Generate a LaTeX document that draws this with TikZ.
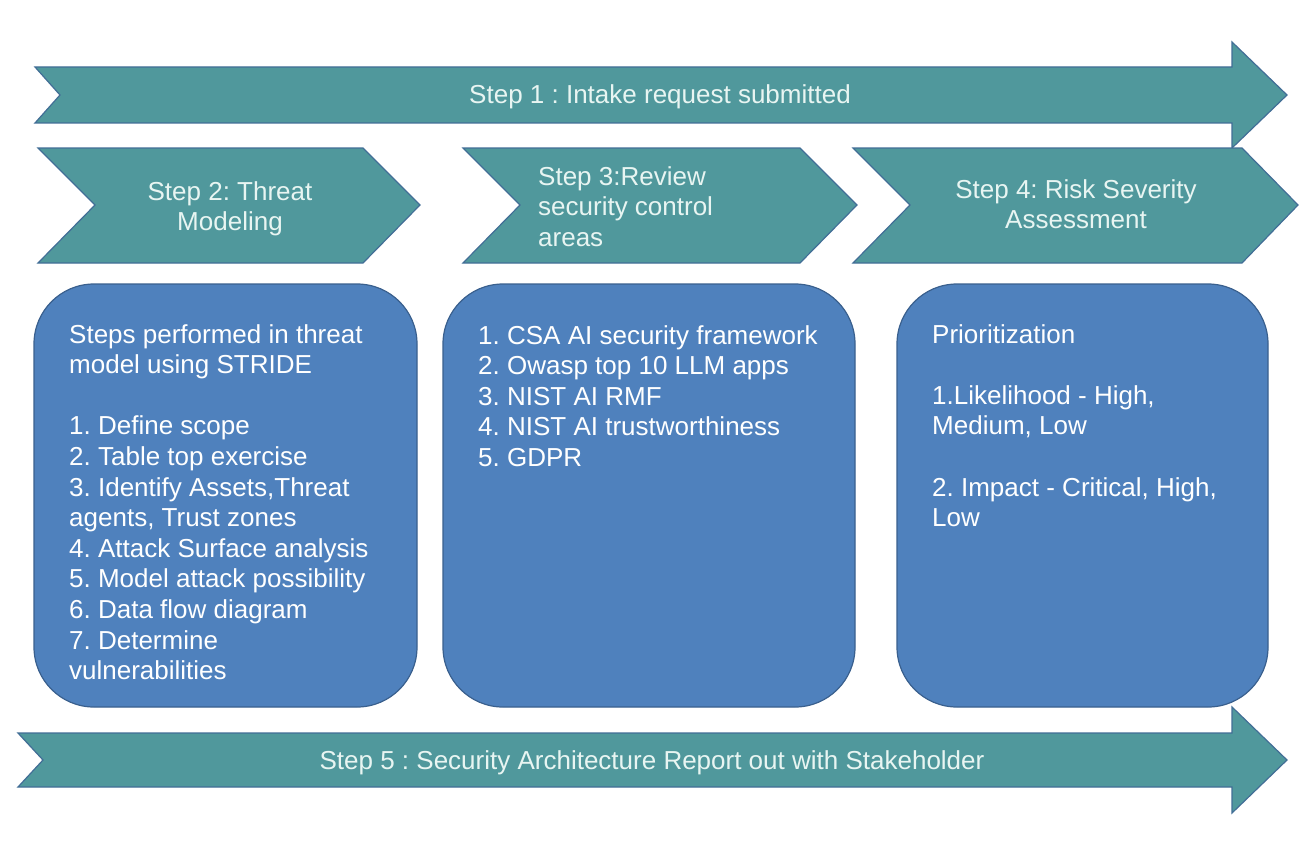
\documentclass[tikz,border=0pt]{standalone}
\usepackage{fontspec}
\setmainfont{Liberation Sans}
\frenchspacing
\definecolor{arrowfill}{RGB}{80,152,156}
\definecolor{arrowline}{RGB}{66,110,150}
\definecolor{boxfill}{RGB}{79,129,189}
\definecolor{boxline}{RGB}{58,96,142}
\definecolor{arrowtext}{RGB}{232,245,242}
\begin{document}
\begin{tikzpicture}[x=1pt,y=-1pt,
  flowarrow/.style={fill=arrowfill,draw=arrowline,line width=1.2pt,line join=miter},
  infobox/.style={fill=boxfill,draw=boxline,line width=1.2pt,rounded corners=60pt},
  bigtext/.style={font=\fontsize{26}{30.6}\selectfont\frenchspacing,inner sep=0pt},
  arrowlabel/.style={bigtext,text=arrowtext},
  boxlabel/.style={bigtext,text=white,align=left,anchor=north west}
]
\useasboundingbox (0,0) rectangle (1316,840);
\fill[white] (0,0) rectangle (1316,840);

% Step 1 arrow
\draw[flowarrow] (35,67) -- (1232,67) -- (1232,42) -- (1287,95) -- (1232,148) -- (1232,123) -- (35,123) -- (60,95) -- cycle;
\node[arrowlabel,anchor=base] (s1) at (660,103) {Step 1 : Intake request submitted};

% Chevrons
\draw[flowarrow] (38,148) -- (363,148) -- (420,205) -- (363,263) -- (38,263) -- (95,205) -- cycle;
\draw[flowarrow] (463,148) -- (800,148) -- (857,205) -- (800,263) -- (463,263) -- (520,205) -- cycle;
\draw[flowarrow] (853,148) -- (1242,148) -- (1298,205) -- (1242,263) -- (853,263) -- (910,205) -- cycle;
\node[arrowlabel,align=center,anchor=north] (s2) at (230,181) {Step 2: Threat\\Modeling};
\node[arrowlabel,align=left,anchor=north west] (s3) at (538,166) {Step 3:Review\\security control\\areas};
\node[arrowlabel,align=center,anchor=north] (s4) at (1076,179) {Step 4: Risk Severity\\Assessment};

% Boxes
\draw[infobox] (34,284) rectangle (417,707);
\draw[infobox] (443,284) rectangle (855,707);
\draw[infobox] (897,284) rectangle (1268,707);

\node[boxlabel] (b1) at (69,324) {Steps performed in threat\\model using STRIDE\\[30.6pt]1. Define scope\\2. Table top exercise\\3. Identify Assets,Threat\\agents, Trust zones\\4. Attack Surface analysis\\5. Model attack possibility\\6. Data flow diagram\\7. Determine\\vulnerabilities};
\node[boxlabel] (b2) at (478,325) {1. CSA AI security framework\\2. Owasp top 10 LLM apps\\3. NIST AI RMF\\4. NIST AI trustworthiness\\5. GDPR};
\node[boxlabel] (b3) at (932,324) {Prioritization\\[30.6pt]1.Likelihood - High,\\Medium, Low\\[30.6pt]2. Impact - Critical, High,\\Low};

% Step 5 arrow
\draw[flowarrow] (18,733) -- (1232,733) -- (1232,707) -- (1287,760) -- (1232,813) -- (1232,787) -- (18,787) -- (43,760) -- cycle;
\node[arrowlabel,anchor=base] (s5) at (652,769) {Step 5 : Security Architecture Report out with Stakeholder};
\end{tikzpicture}
\end{document}
